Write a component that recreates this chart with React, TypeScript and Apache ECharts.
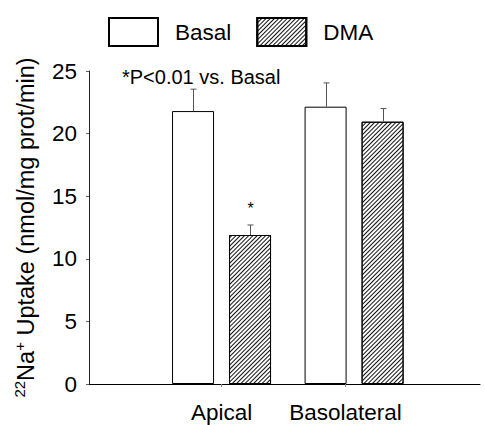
import React, { useEffect, useRef } from "react";
import * as echarts from "echarts";

const categories = ["Apical", "Basolateral"];
const categoryPositions = [1, 2];
const labelPositions = [1, 1.935];
const basalMeans = [21.8, 22.15];
const basalErrors = [1.75, 1.9];
const dmaMeans = [11.9, 20.95];
const dmaErrors = [0.8, 1.05];
const dmaSignificant = [true, false];
const yTicks = [0, 5, 10, 15, 20, 25];
const seriesNames = ["Basal", "DMA"];
const noteText = "*P<0.01 vs. Basal";

const FONT = "Liberation Sans, Arial, Helvetica, sans-serif";
const BAR_W = 42;
const BAR_GAP_PX = 15;
const OFFSET = BAR_W / 2 + BAR_GAP_PX / 2;

const hatch = {
  symbol: "rect",
  symbolSize: 1,
  dashArrayX: [1, 0],
  dashArrayY: [1, 2],
  rotation: -Math.PI / 4,
  color: "#111",
  backgroundColor: "#fff",
};

function errorSeries(name: string, means: number[], errs: number[], offset: number, stars: boolean[]) {
  return {
    type: "custom",
    name,
    silent: true,
    z: 5,
    data: categoryPositions.map((x, i) => [x, means[i], errs[i], stars[i] ? 1 : 0]),
    renderItem: (params: any, api: any) => {
      const x = api.value(0);
      const m = api.value(1);
      const e = api.value(2);
      const star = api.value(3);
      const base = api.coord([x, m]);
      const top = api.coord([x, m + e]);
      const cx = Math.round(base[0] + offset) + 0.5;
      const children: any[] = [
        { type: "line", shape: { x1: cx, y1: base[1], x2: cx, y2: top[1] }, style: { stroke: "#555", lineWidth: 1 } },
        { type: "line", shape: { x1: cx - 3, y1: top[1], x2: cx + 3, y2: top[1] }, style: { stroke: "#555", lineWidth: 1 } },
      ];
      if (star) {
        children.push({
          type: "text",
          style: { text: "*", x: cx, y: top[1] - 16, align: "center", verticalAlign: "middle", font: `16px ${FONT}`, fill: "#000" },
        });
      }
      return { type: "group", children };
    },
  };
}

export default function App() {
  const ref = useRef<HTMLDivElement>(null);
  useEffect(() => {
    if (!ref.current) return;
    const chart = echarts.init(ref.current, undefined, { renderer: "svg" });
    chart.setOption({
      animation: false,
      backgroundColor: "#fff",
      title: {
        text: noteText,
        left: 117,
        top: 62,
        textStyle: { fontFamily: FONT, fontSize: 20, fontWeight: "normal", color: "#000" },
      },
      legend: {
        data: seriesNames,
        icon: "rect",
        left: 103,
        top: 12,
        itemWidth: 49,
        itemHeight: 28,
        itemGap: 25,
        textStyle: { fontFamily: FONT, fontSize: 22.5, color: "#000", padding: [0, 0, 0, 12] },
      },
      grid: { left: 89, right: 5, top: 71, bottom: 41, containLabel: false },
      xAxis: [
        {
          type: "value",
          min: 0,
          max: 2.95,
          axisLine: { show: true, onZero: false, lineStyle: { color: "#000", width: 1 } },
          axisTick: { show: true, customValues: labelPositions, length: 3, lineStyle: { color: "#888" } },
          axisLabel: {
            show: true,
            customValues: labelPositions,
            formatter: (v: number) => {
              const idx = labelPositions.findIndex((p) => Math.abs(p - v) < 1e-6);
              return idx >= 0 ? categories[idx] : "";
            },
            fontFamily: FONT,
            fontSize: 22.5,
            color: "#000",
            margin: 17,
          },
          splitLine: { show: false },
        },
      ],
      yAxis: {
        type: "value",
        min: 0,
        max: 25,
        interval: 5,
        name: "{sup|22}Na{sup|+} Uptake (nmol/mg prot/min)",
        nameLocation: "middle",
        nameGap: 50,
        nameTextStyle: {
          fontFamily: FONT,
          fontSize: 23.5,
          color: "#000",
          rich: {
            sup: { fontSize: 15, verticalAlign: "top", padding: [0, 0, 12, 0], fontFamily: FONT, color: "#000" },
          },
        },
        axisLine: { show: true, lineStyle: { color: "#222", width: 1 } },
        axisTick: { show: true, length: 3, lineStyle: { color: "#666" } },
        axisLabel: {
          fontFamily: FONT,
          fontSize: 22.5,
          color: "#000",
          margin: 12,
          formatter: (v: number) => (yTicks.includes(v) ? String(v) : ""),
        },
        splitLine: { show: false },
      },
      series: [
        {
          type: "bar",
          name: seriesNames[0],
          data: categoryPositions.map((x, i) => [x, basalMeans[i]]),
          barWidth: BAR_W,
          barGap: `${(BAR_GAP_PX / BAR_W) * 100}%`,
          itemStyle: { color: "#fff", borderColor: "#000", borderWidth: 1 },
        },
        {
          type: "bar",
          name: seriesNames[1],
          data: categoryPositions.map((x, i) => [x, dmaMeans[i]]),
          barWidth: BAR_W,
          barGap: `${(BAR_GAP_PX / BAR_W) * 100}%`,
          itemStyle: { color: "#fff", borderColor: "#000", borderWidth: 1, decal: hatch },
        },
        errorSeries("BasalErr", basalMeans, basalErrors, -OFFSET, [false, false]),
        errorSeries("DMAErr", dmaMeans, dmaErrors, OFFSET, dmaSignificant),
      ],
    });
    return () => chart.dispose();
  }, []);
  return <div ref={ref} style={{ width: 485, height: 425, position: "absolute", left: 0, top: 0 }} />;
}
